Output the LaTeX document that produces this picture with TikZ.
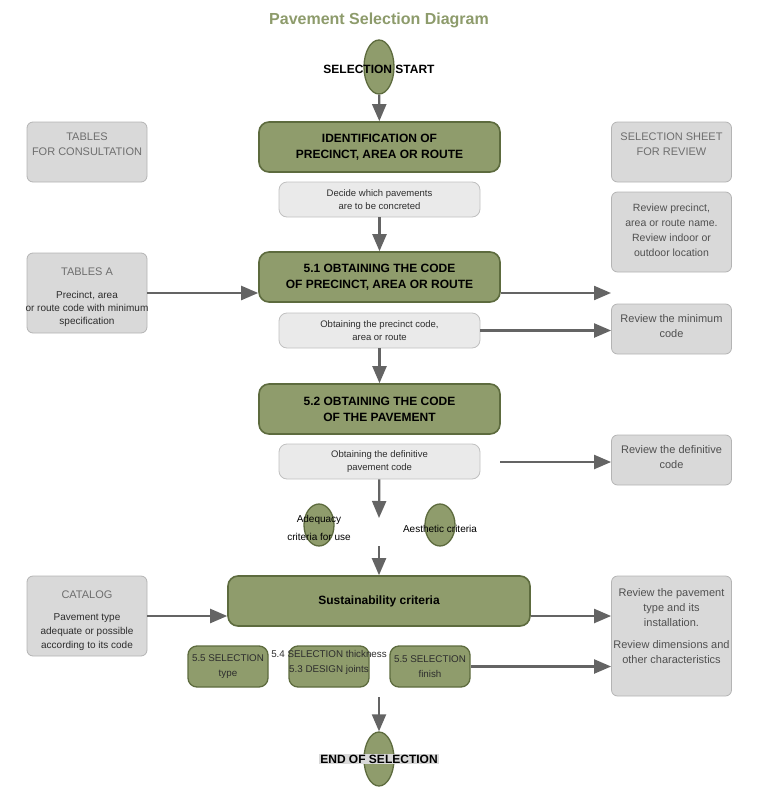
\documentclass[tikz,border=0pt]{standalone}
\usepackage{fontspec}
\setmainfont{Liberation Sans}
\usepackage{xcolor}
\usepackage{tikz}
\usetikzlibrary{arrows.meta}
\usetikzlibrary{positioning}
\usetikzlibrary{shapes.geometric}

\definecolor{greenfill}{RGB}{143,156,108}
\definecolor{greenline}{RGB}{93,107,62}
\definecolor{titlecol}{RGB}{141,155,107}
\definecolor{grayfill}{RGB}{217,217,217}
\definecolor{grayline}{RGB}{180,180,180}
\definecolor{lightfill}{RGB}{234,234,234}
\definecolor{lightline}{RGB}{192,192,192}
\definecolor{arrowcol}{RGB}{100,100,100}
\definecolor{softtext}{RGB}{110,110,110}
\definecolor{midtext}{RGB}{80,80,80}
\definecolor{darktext}{RGB}{45,45,45}

\begin{document}
\begin{tikzpicture}[x=1pt, y=-1pt,
	terminal/.style={ellipse, draw=greenline, fill=greenfill, line width=1.3pt, minimum width=30, minimum height=54, inner sep=0},
	criterion/.style={ellipse, draw=greenline, fill=greenfill, line width=1.3pt, minimum width=30, minimum height=42, inner sep=0},
	stage/.style={rectangle, rounded corners=10, draw=greenline, fill=greenfill, line width=1.6pt, minimum width=241, minimum height=50, align=center, font=\bfseries\fontsize{12}{16}\selectfont},
	task/.style={rectangle, rounded corners=8, draw=lightline, fill=lightfill, line width=0.8pt, minimum width=201, minimum height=35, align=center, text=darktext, font=\fontsize{9.5}{13}\selectfont},
	pick/.style={rectangle, rounded corners=9, draw=greenline, fill=greenfill, line width=1.3pt, minimum width=80, minimum height=41, inner sep=0, align=center, text=darktext, font=\fontsize{9.8}{15}\selectfont},
	sheet/.style={rectangle, rounded corners=6, draw=grayline, fill=grayfill, line width=0.8pt, minimum width=120, align=center},
	sheet text/.style={anchor=north, align=center, text=midtext, font=\fontsize{11}{15}\selectfont},
	flow/.style={draw=arrowcol, line width=2.2pt, -{Triangle[length=17pt, width=14pt]}}]
	\useasboundingbox (0,0) rectangle (767,792);

	\node[text=titlecol, font=\bfseries\fontsize{16}{19}\selectfont] (title) at (379,20) {Pavement Selection Diagram};

	% main column
	\node[terminal, label={[font=\bfseries\fontsize{12}{14}\selectfont, yshift=-2pt]center:SELECTION START}] (start) at (379,67) {};
	\node[stage] (ident) at (379.5,147) {IDENTIFICATION OF\\PRECINCT, AREA OR ROUTE};
	\node[task] (decide) at (379.5,199.5) {Decide which pavements\\are to be concreted};
	\node[stage] (code51) at (379.5,277) {5.1 OBTAINING THE CODE\\OF PRECINCT, AREA OR ROUTE};
	\node[task] (precinct) at (379.5,330.5) {Obtaining the precinct code,\\area or route};
	\node[stage] (code52) at (379.5,409) {5.2 OBTAINING THE CODE\\OF THE PAVEMENT};
	\node[task] (definitive) at (379.5,461.5) {Obtaining the definitive\\pavement code};
	\node[criterion, label={[align=center, font=\fontsize{10}{18}\selectfont, yshift=-3pt]center:{Adequacy\\criteria for use}}] (adequacy) at (319,525) {};
	\node[criterion, label={[font=\fontsize{10}{12}\selectfont, yshift=-4pt]center:Aesthetic criteria}] (aesthetic) at (440,525) {};
	\node[stage, minimum width=302, font=\bfseries\fontsize{12}{16}\selectfont] (sust) at (379,601) {Sustainability criteria};
	\node[pick] (typebox) at (228,666.5) {5.5 SELECTION\\type};
	\node[pick, label={[align=center, text=darktext, font=\fontsize{9.8}{15}\selectfont, yshift=4pt]center:{5.4 SELECTION thickness\\5.3 DESIGN joints}}] (jointbox) at (329,666.5) {};
	\node[pick] (finishbox) at (430,666.5) {5.5 SELECTION\\finish};
	\node[terminal, label={[fill=grayfill, inner sep=1pt, font=\bfseries\fontsize{12}{14}\selectfont]center:END OF SELECTION}] (finish) at (379,759) {};

	% left sheets
	\node[sheet, minimum height=60, label={[sheet text, text=softtext, yshift=-8pt]north:{TABLES\\FOR CONSULTATION}}] (consult) at (87,152) {};
	\node[sheet, minimum height=80, label={[sheet text, text=softtext, yshift=-12pt]north:{TABLES A}}, label={[sheet text, text=darktext, font=\fontsize{10}{13}\selectfont, yshift=-35pt]north:{Precinct, area\\or route code with minimum\\specification}}] (tablesA) at (87,293) {};
	\node[sheet, minimum height=80, label={[sheet text, text=softtext, yshift=-12pt]north:{CATALOG}}, label={[sheet text, text=darktext, font=\fontsize{10}{14}\selectfont, yshift=-34pt]north:{Pavement type\\adequate or possible\\according to its code}}] (catalog) at (87,616) {};

	% right sheets
	\node[sheet, minimum height=60, label={[sheet text, text=softtext, yshift=-8pt]north:{SELECTION SHEET\\FOR REVIEW}}] (review) at (671.5,152) {};
	\node[sheet, minimum height=80, label={[sheet text, font=\fontsize{10.5}{15}\selectfont, yshift=-9pt]north:{Review precinct,\\area or route name.\\Review indoor or\\outdoor location}}] (revname) at (671.5,232) {};
	\node[sheet, minimum height=50, label={[sheet text, yshift=-7pt]north:{Review the minimum\\code}}] (revmin) at (671.5,329) {};
	\node[sheet, minimum height=50, label={[sheet text, yshift=-7pt]north:{Review the definitive\\code}}] (revdef) at (671.5,460) {};
	\node[sheet, minimum height=120, label={[sheet text, font=\fontsize{11}{15}\selectfont, yshift=-9pt]north:{Review the pavement\\type and its\\installation.\\[7pt]Review dimensions and\\other characteristics}}] (revpav) at (671.5,636) {};

	% free ends
	\coordinate (crit in) at (379,518);
	\coordinate (crit out) at (379,546);
	\coordinate (end in) at (379,697);
	\coordinate (code out) at (611,293);
	\coordinate (def out) at (500,462);

	% connectors
	\draw[flow] (start) -- (ident);
	\draw[flow] (decide) -- (code51);
	\draw[flow] (precinct) -- (code52);
	\draw[flow] (definitive) -- (crit in);
	\draw[flow] (crit out) -- (sust);
	\draw[flow] (end in) -- (finish);
	\draw[flow] (tablesA.east) -- (tablesA.east -| code51.west);
	\draw[flow] (code51.east |- code out) -- (code out);
	\draw[flow] (precinct.east) -- (precinct.east -| revmin.west);
	\draw[flow] (def out) -- (def out -| revdef.west);
	\draw[flow] (catalog.east) -- (catalog.east -| sust.west);
	\draw[flow] (sust.east |- catalog.east) -- (revpav.west |- catalog.east);
	\draw[flow] (finishbox.east) -- (finishbox.east -| revpav.west);
\end{tikzpicture}
\end{document}
